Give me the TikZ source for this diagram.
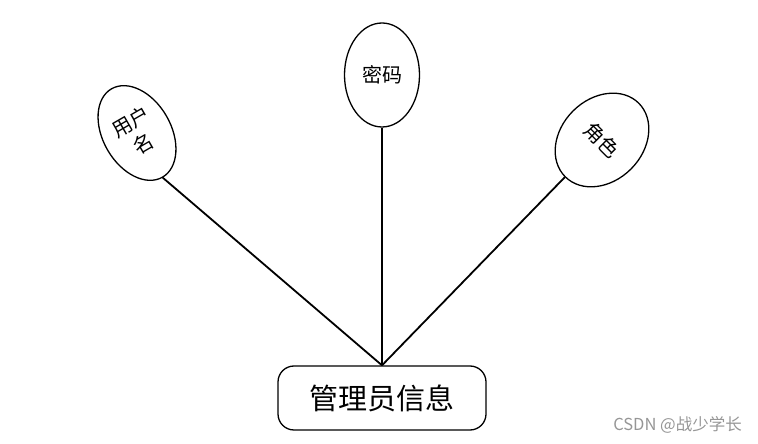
\documentclass[tikz,border=0pt]{standalone}
\usepackage{fontspec}
\usepackage{tikz}
\usetikzlibrary{shapes.geometric, positioning}
\newfontfamily\cjkfont{Noto Sans CJK SC}
\definecolor{markgray}{RGB}{150,150,150}

\begin{document}
\begin{tikzpicture}[x=1pt, y=1pt,
    attr/.style={ellipse, draw, line width=1.3pt, inner sep=0pt, align=center, font=\cjkfont\fontsize{20}{25}\selectfont},
    entity/.style={rectangle, rounded corners=16pt, draw, line width=1.3pt, minimum width=208pt, minimum height=64pt, font=\cjkfont\fontsize{29}{32}\selectfont},
    link/.style={line width=1.8pt}]
    \useasboundingbox (0,0) rectangle (758,444);

    % Entity
    \node[entity] (admin) at (382,46) {管理员信息};

    % Attributes
    \node[attr, minimum width=68pt, minimum height=102pt, rotate=30] (uname) at (137,311) {用户\\名};
    \node[attr, minimum width=75pt, minimum height=104pt] (pwd) at (382,369) {密码};
    \node[attr, minimum width=82pt, minimum height=104pt, rotate=-45] (role) at (602,304) {角色};

    % Links
    \draw[link] (admin.north) -- (uname.south);
    \draw[link] (admin.north) -- (pwd.south);
    \draw[link] (admin.north) -- (role.south);

    % Watermark
    \node[font=\cjkfont\fontsize{16.5}{19}\selectfont, text=markgray, anchor=east, inner sep=0pt] (mark) at (742,19) {CSDN @战少学长};
\end{tikzpicture}
\end{document}
